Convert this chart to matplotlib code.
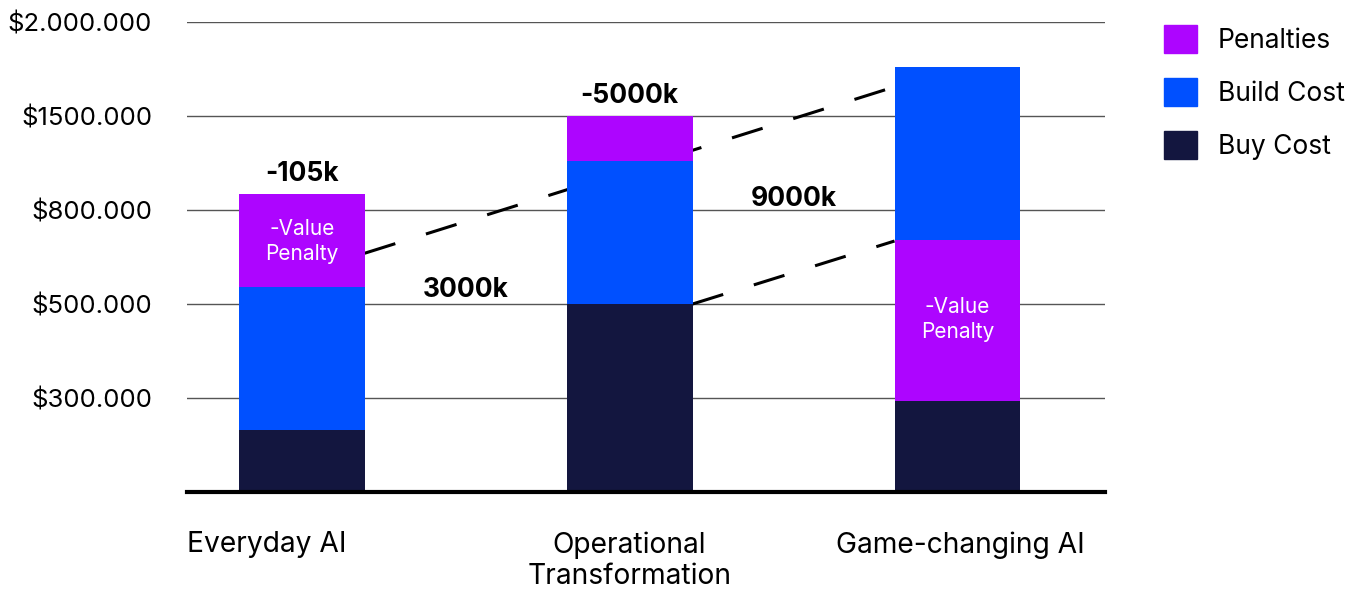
import matplotlib.pyplot as plt
from matplotlib.patches import Patch

plt.rcParams['font.family'] = ['Inter', 'DejaVu Sans']

categories = ["Everyday AI", "Operational\nTransformation", "Game-changing AI"]
# values in axis units (each gridline = one step)
buy_cost = [0.66, 2.0, 0.97]
build_cost = [1.52, 1.52, None]
penalties = [0.99, 0.48, None]
game_penalty = 1.71
game_build = 1.84
tick_labels = ["", "$300.000", "$500.000", "$800.000", "$1500.000", "$2.000.000"]

bar_labels = ["-105k", "-5000k", ""]
gap_labels = ["3000k", "9000k"]
upper_link = [2.54, 4.31]
lower_link = [2.0, 2.67]

c_pen = "#AD05FF"
c_build = "#0050FF"
c_buy = "#13163F"

fig = plt.figure(figsize=(13.59, 5.89), dpi=100)
ax = fig.add_axes([187/1359, 1-492/589, 918/1359, 470/589])

x = [0, 1, 2]
w = 0.384
ax.set_xlim(-0.35, 2.45)
ax.set_ylim(0, 5)

# connectors drawn first, behind bars
ax.plot([x[0] + w/2, x[2] - w/2], upper_link, color="black", lw=2.2,
        dashes=(10.5, 10.5), zorder=1)
ax.plot([x[1] + w/2, x[2] - w/2], lower_link, color="black", lw=2.2,
        dashes=(10.5, 10.5), zorder=1)

for i in range(2):
    ax.bar(x[i], buy_cost[i], w, color=c_buy, zorder=2)
    ax.bar(x[i], build_cost[i], w, bottom=buy_cost[i], color=c_build, zorder=2)
    ax.bar(x[i], penalties[i], w, bottom=buy_cost[i] + build_cost[i],
           color=c_pen, zorder=2)
ax.bar(x[2], buy_cost[2], w, color=c_buy, zorder=2)
ax.bar(x[2], game_penalty, w, bottom=buy_cost[2], color=c_pen, zorder=2)
ax.bar(x[2], game_build, w, bottom=buy_cost[2] + game_penalty, color=c_build, zorder=2)

for i in range(2):
    top = buy_cost[i] + build_cost[i] + penalties[i]
    ax.text(x[i], top + 0.21, bar_labels[i], ha="center", va="center",
            fontsize=19, fontweight="bold")

ax.text(0.5, 2.15, gap_labels[0], ha="center", va="center", fontsize=19, fontweight="bold")
ax.text(1.5, 3.12, gap_labels[1], ha="center", va="center", fontsize=19, fontweight="bold")

ax.text(x[0], buy_cost[0] + build_cost[0] + penalties[0] / 2 - 0.01, "-Value\nPenalty",
        ha="center", va="center", color="white", fontsize=15, linespacing=1.35)
ax.text(x[2], buy_cost[2] + game_penalty / 2 + 0.01, "-Value\nPenalty",
        ha="center", va="center", color="white", fontsize=15, linespacing=1.35)

ax.set_yticks(range(6))
ax.set_yticklabels(tick_labels, fontsize=18.5)
ax.tick_params(axis="y", length=0, pad=25)
ax.set_xticks([])
for yv in range(1, 6):
    ax.axhline(yv, color="#555555", lw=1, zorder=0)
ax.axhline(0, color="black", lw=3, zorder=3, clip_on=False)
for s in ax.spines.values():
    s.set_visible(False)

# category labels
ax.text(0, -0.42, categories[0], transform=ax.get_yaxis_transform(), ha="left",
        va="top", fontsize=20.3)
ax.text(x[1], -0.42, categories[1], ha="center", va="top", fontsize=20.3, linespacing=1.2)
ax.text(x[2] + 0.01, -0.42, categories[2], ha="center", va="top", fontsize=20.3)

handles = [Patch(color=c_pen, label="Penalties"),
           Patch(color=c_build, label="Build Cost"),
           Patch(color=c_buy, label="Buy Cost")]
fig.legend(handles=handles, loc="upper left", bbox_to_anchor=(1164/1359, 1-25/589),
           frameon=False, fontsize=19, handlelength=1.25, handleheight=1.25,
           labelspacing=0.91, handletextpad=0.8, borderpad=0, borderaxespad=0)

fig.savefig("out.png", dpi=100)
